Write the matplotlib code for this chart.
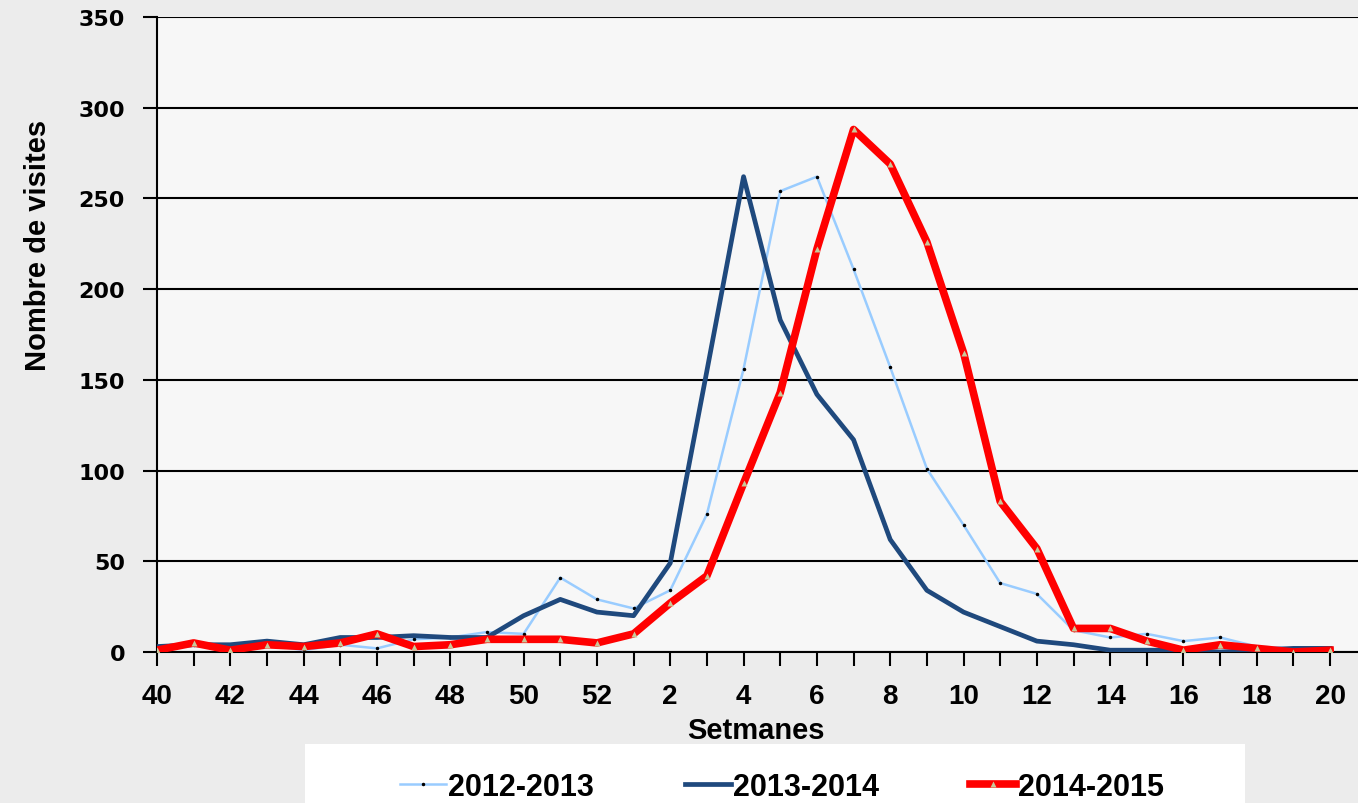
import matplotlib
matplotlib.use("Agg")
from matplotlib import pyplot as plt
from matplotlib.patches import Rectangle

# week numbers: season runs from week 40 to week 20 of next year
weeks = list(range(40, 53)) + list(range(1, 21))

visits_2012_2013 = [2, 4, 3, 4, 1, 4, 2, 7, 8, 11, 10, 41, 29, 24, 34, 76, 156, 254, 262, 211,
                    157, 101, 70, 38, 32, 12, 8, 10, 6, 8, 3, 2, 2]
visits_2013_2014 = [3, 4, 4, 6, 4, 8, 8, 9, 8, 8, 20, 29, 22, 20, 49, 155, 262, 183, 142, 117,
                    62, 34, 22, 14, 6, 4, 1, 1, 1, 0, 1, 2, 2]
visits_2014_2015 = [1, 5, 1, 4, 3, 5, 10, 3, 4, 7, 7, 7, 5, 10, 27, 42, 93, 143, 222, 288,
                    269, 226, 165, 83, 57, 13, 13, 6, 1, 4, 2, 0, 1]

plt.rcParams['font.family'] = ['Liberation Sans', 'DejaVu Sans']

fig = plt.figure(figsize=(13.58, 8.04), dpi=100, facecolor='#ececec')
ax = fig.add_axes([157 / 1358, 151 / 804, 1 - 157 / 1358, 635 / 804])
ax.set_facecolor('#f7f7f7')

x = list(range(len(weeks)))

ax.plot(x, visits_2012_2013, color='#99ccff', linewidth=1.8, marker='.', markersize=3,
        markerfacecolor='black', markeredgecolor='black', label='2012-2013', zorder=3)
ax.plot(x, visits_2013_2014, color='#1f497d', linewidth=3.4, label='2013-2014', zorder=4)
ax.plot(x, visits_2014_2015, color='#ff0000', linewidth=5.5, marker='^', markersize=5,
        markerfacecolor='#c8c89a', markeredgecolor='none', label='2014-2015', zorder=5)

ax.set_ylim(0, 350)
ax.set_xlim(0, 32.76)
ax.set_yticks(range(0, 351, 50))
ax.grid(axis='y', color='black', linewidth=1.5, zorder=1)
ax.set_axisbelow(True)

ax.set_xticks(x)
ax.set_xticklabels([str(w) if i % 2 == 0 else '' for i, w in enumerate(weeks)])

for side in ['top', 'right']:
    ax.spines[side].set_visible(False)
ax.spines['left'].set_linewidth(1.5)
ax.spines['bottom'].set_linewidth(1.5)
ax.tick_params(axis='both', direction='out', length=10, width=1.5, color='black')
ax.tick_params(axis='y', pad=13)
ax.tick_params(axis='x', labelsize=20, pad=12)
for lbl in ax.get_yticklabels():
    lbl.set_fontfamily('DejaVu Sans')
    lbl.set_fontweight('bold')
    lbl.set_fontsize(16)
for lbl in ax.get_xticklabels():
    lbl.set_fontweight('bold')

fig.text(38 / 1358, 1 - 245 / 804, 'Nombre de visites', rotation=90, fontsize=21,
         fontweight='bold', ha='center', va='center')
fig.text(756 / 1358, 1 - 731 / 804, 'Setmanes', fontsize=21, fontweight='bold',
         ha='center', va='center')

# white legend box at the bottom
fig.patches.append(Rectangle((305 / 1358, 0), 940 / 1358, 59 / 804, transform=fig.transFigure,
                             facecolor='white', edgecolor='none', zorder=0))
fig.legend(loc='center', bbox_to_anchor=(782 / 1358, 1 - 788 / 804), ncol=3, frameon=False,
           handlelength=1.5, handletextpad=0.05, columnspacing=3.0,
           prop={'size': 22, 'weight': 'bold'})

plt.savefig('out.png', dpi=100, facecolor=fig.get_facecolor())
